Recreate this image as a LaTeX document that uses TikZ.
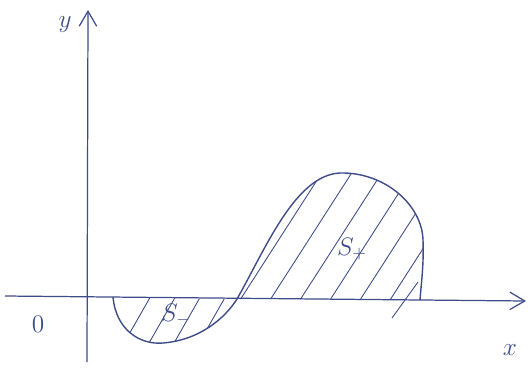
\documentclass[tikz,border=0pt]{standalone}
\usepackage{amsmath,amssymb}
\usepackage{tikz}
\usetikzlibrary{arrows.meta,positioning,calc}
\usepackage{xcolor}
\definecolor{InkBlue}{HTML}{3E4C8A}

\begin{document}
\begin{tikzpicture}[
    x=0.02cm, y=-0.02cm,
    axis/.style={draw=InkBlue, line width=0.7pt, -{Straight Barb[length=3mm,width=3.5mm]}},
    curve/.style={draw=InkBlue, line width=0.8pt},
    hatch/.style={draw=InkBlue, line width=0.5pt},
    lbl/.style={text=InkBlue, font=\Large}
  ]
    \useasboundingbox (0,0) rectangle (530,369);

    \coordinate (xstart) at (5,296);
    \coordinate (xend) at (526,301);
    \coordinate (ystart) at (87,362);
    \coordinate (yend) at (88,10);

    \draw[axis] (xstart) -- (xend);
    \draw[axis] (ystart) -- (yend);

    \node[lbl] (ylabel) at (65,25) {$y$};
    \node[lbl] (xlabel) at (510,350) {$x$};
    \node[lbl] (origin) at (38,324) {$0$};

    % lower lobe
    \begin{scope}
      \clip (113,297) .. controls (116,330) and (140,345) .. (163,343)
        .. controls (200,340) and (225,318) .. (237,299) -- cycle;
      \foreach \s in {120,145,170,195}
        \draw[hatch] (\s,350) -- ++(40,-70);
    \end{scope}
    \draw[curve] (113,297) .. controls (116,330) and (140,345) .. (163,343)
        .. controls (200,340) and (225,318) .. (237,299);

    % upper lobe
    \begin{scope}
      \clip (237,299) .. controls (265,250) and (295,175) .. (340,173)
        .. controls (385,172) and (422,205) .. (423,240)
        .. controls (424,265) and (421,285) .. (420,300) -- cycle;
      \foreach \s in {240,270,300,330,360,390,420}
        \draw[hatch] (\s,300) -- ++(90,-140);
    \end{scope}
    \draw[curve] (237,299) .. controls (265,250) and (295,175) .. (340,173)
        .. controls (385,172) and (422,205) .. (423,240)
        .. controls (424,265) and (421,285) .. (420,300);
    \draw[hatch] (392,318) -- (418,282);

    \node[lbl] (splus) at (352,249) {$S_{+}$};
    \node[lbl] (sminus) at (176,315) {$S_{-}$};
  \end{tikzpicture}
\end{document}
